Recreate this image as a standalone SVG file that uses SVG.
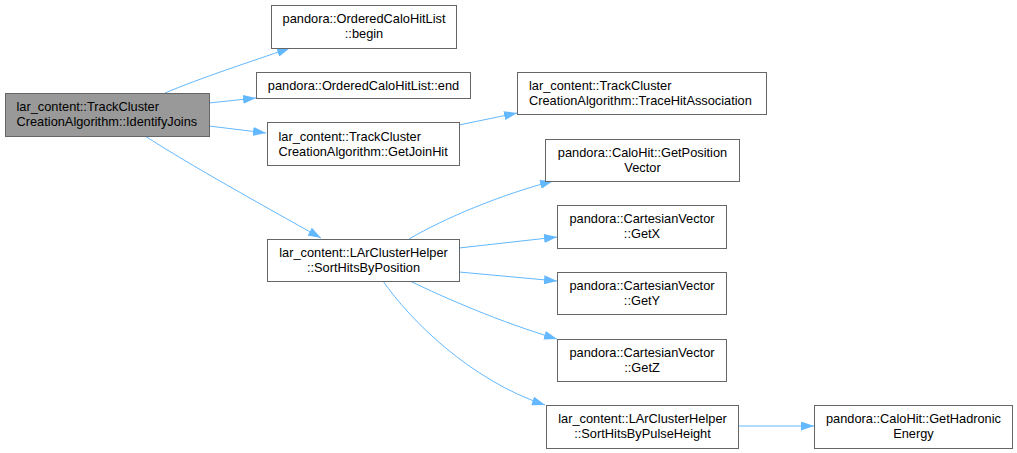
<svg xmlns="http://www.w3.org/2000/svg" width="1017" height="453" viewBox="0 0 1017 453">
<defs>
<style>
.n rect{fill:#ffffff;stroke:#666666;stroke-width:1}
.n.h rect{fill:#999999}
.n text{font-family:"Liberation Sans",Arial,sans-serif;font-size:12.8px;fill:#000000}
.c{text-anchor:middle}
.e path{fill:none;stroke:#63b8ff;stroke-width:1;marker-end:url(#ah)}
</style>
<marker id="ah" viewBox="0 0 13 9" refX="13" refY="4.5" markerWidth="13" markerHeight="9" markerUnits="userSpaceOnUse" orient="auto">
<path d="M0,0 L13,4.5 L0,9 Z" fill="#63b8ff" stroke="none"/>
</marker>
</defs>
<rect width="1017" height="453" fill="#ffffff"/>
<g id="edges" class="e">
<path d="M165,93 C200,78 250,62 290,48"/>
<path d="M209,103 L256,98"/>
<path d="M209,126 L266,133"/>
<path d="M145,136 C190,165 262,205 321,238"/>
<path d="M459,125 C478,121 498,117 517,113"/>
<path d="M409,239 C445,218 500,195 553,181"/>
<path d="M459,248 L557,237"/>
<path d="M459,272 L557,281"/>
<path d="M410,281 C445,298 500,322 557,339"/>
<path d="M383,281 C410,320 470,380 545,405"/>
<path d="M738,426 L814,426"/>
</g>
<g id="IdentifyJoins" class="n h">
<rect x="5.5" y="93.5" width="204" height="43"/>
<text x="16.5" y="111">lar_content::TrackCluster</text>
<text x="16.5" y="126">CreationAlgorithm::IdentifyJoins</text>
</g>
<g id="begin" class="n">
<rect x="271.5" y="5.5" width="185" height="43"/>
<text class="c" x="364" y="23">pandora::OrderedCaloHitList</text>
<text class="c" x="364" y="38">::begin</text>
</g>
<g id="end" class="n">
<rect x="256.5" y="72.5" width="214" height="26"/>
<text class="c" x="363.5" y="90">pandora::OrderedCaloHitList::end</text>
</g>
<g id="GetJoinHit" class="n">
<rect x="267.5" y="122.5" width="192" height="43"/>
<text x="278.5" y="140.5">lar_content::TrackCluster</text>
<text x="278.5" y="155.5">CreationAlgorithm::GetJoinHit</text>
</g>
<g id="TraceHitAssociation" class="n">
<rect x="517.5" y="72.5" width="249" height="42"/>
<text x="529" y="89.5">lar_content::TrackCluster</text>
<text x="529" y="104.5">CreationAlgorithm::TraceHitAssociation</text>
</g>
<g id="GetPositionVector" class="n">
<rect x="545.5" y="139.5" width="194" height="42"/>
<text class="c" x="642.5" y="156.5">pandora::CaloHit::GetPosition</text>
<text class="c" x="642.5" y="171.5">Vector</text>
</g>
<g id="GetX" class="n">
<rect x="557.5" y="205.5" width="169" height="43"/>
<text class="c" x="642" y="223">pandora::CartesianVector</text>
<text class="c" x="642" y="238">::GetX</text>
</g>
<g id="SortHitsByPosition" class="n">
<rect x="267.5" y="239.5" width="192" height="42"/>
<text class="c" x="363.5" y="256.5">lar_content::LArClusterHelper</text>
<text class="c" x="363.5" y="271.5">::SortHitsByPosition</text>
</g>
<g id="GetY" class="n">
<rect x="557.5" y="272.5" width="169" height="42"/>
<text class="c" x="642" y="289.5">pandora::CartesianVector</text>
<text class="c" x="642" y="304.5">::GetY</text>
</g>
<g id="GetZ" class="n">
<rect x="557.5" y="339.5" width="169" height="42"/>
<text class="c" x="642" y="356.5">pandora::CartesianVector</text>
<text class="c" x="642" y="371.5">::GetZ</text>
</g>
<g id="SortHitsByPulseHeight" class="n">
<rect x="546.5" y="405.5" width="192" height="43"/>
<text class="c" x="642.5" y="423">lar_content::LArClusterHelper</text>
<text class="c" x="642.5" y="438">::SortHitsByPulseHeight</text>
</g>
<g id="GetHadronicEnergy" class="n">
<rect x="814.5" y="405.5" width="198" height="43"/>
<text class="c" x="913.5" y="423">pandora::CaloHit::GetHadronic</text>
<text class="c" x="913.5" y="438">Energy</text>
</g>
</svg>
